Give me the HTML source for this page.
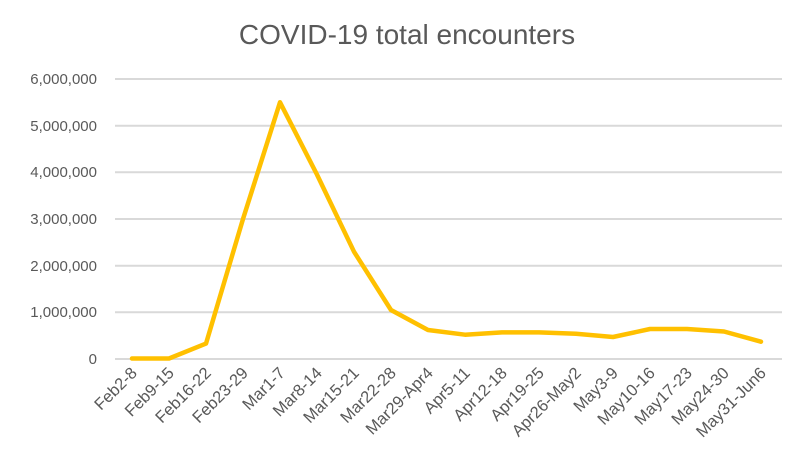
<!DOCTYPE html>
<html><head><style>body{margin:0;background:#fff}</style></head><body>
<svg width="800" height="465" xmlns="http://www.w3.org/2000/svg" font-family="Liberation Sans, sans-serif">
<rect width="800" height="465" fill="#fff"/>
<text x="407" y="44" text-anchor="middle" font-size="28" fill="#595959">COVID-19 total encounters</text>
<g stroke="#d9d9d9" stroke-width="2">
<line x1="115" x2="782" y1="79" y2="79"/><line x1="115" x2="782" y1="125.7" y2="125.7"/>
<line x1="115" x2="782" y1="172.3" y2="172.3"/><line x1="115" x2="782" y1="219" y2="219"/>
<line x1="115" x2="782" y1="265.7" y2="265.7"/><line x1="115" x2="782" y1="312.3" y2="312.3"/>
<line x1="115" x2="782" y1="359" y2="359"/></g>
<g font-size="15" fill="#595959" text-anchor="end">
<text x="97" y="84">6,000,000</text><text x="97" y="131">5,000,000</text>
<text x="97" y="177">4,000,000</text><text x="97" y="224">3,000,000</text>
<text x="97" y="271">2,000,000</text><text x="97" y="317">1,000,000</text>
<text x="97" y="364">0</text></g>
<polyline fill="none" stroke="#ffc000" stroke-width="4.5" stroke-linejoin="round" stroke-linecap="round"
points="132,358.5 169,358.5 206,343.6 243,219 280,102.3 317,174.6 354,251.7 391,310 428,330 465,334.7 502,332.4 539,332.4 576,333.8 613,337 650,329 687,329 724,331.5 761,341.7"/>
<g font-size="16.5" fill="#595959" text-anchor="end">
<text transform="translate(138,374) rotate(-45)">Feb2-8</text>
<text transform="translate(175,374) rotate(-45)">Feb9-15</text>
<text transform="translate(212,374) rotate(-45)">Feb16-22</text>
<text transform="translate(249,374) rotate(-45)">Feb23-29</text>
<text transform="translate(286,374) rotate(-45)">Mar1-7</text>
<text transform="translate(323,374) rotate(-45)">Mar8-14</text>
<text transform="translate(360,374) rotate(-45)">Mar15-21</text>
<text transform="translate(397,374) rotate(-45)">Mar22-28</text>
<text transform="translate(434,374) rotate(-45)">Mar29-Apr4</text>
<text transform="translate(471,374) rotate(-45)">Apr5-11</text>
<text transform="translate(508,374) rotate(-45)">Apr12-18</text>
<text transform="translate(545,374) rotate(-45)">Apr19-25</text>
<text transform="translate(582,374) rotate(-45)">Apr26-May2</text>
<text transform="translate(619,374) rotate(-45)">May3-9</text>
<text transform="translate(656,374) rotate(-45)">May10-16</text>
<text transform="translate(693,374) rotate(-45)">May17-23</text>
<text transform="translate(730,374) rotate(-45)">May24-30</text>
<text transform="translate(767,374) rotate(-45)">May31-Jun6</text>
</g>
</svg>
</body></html>
